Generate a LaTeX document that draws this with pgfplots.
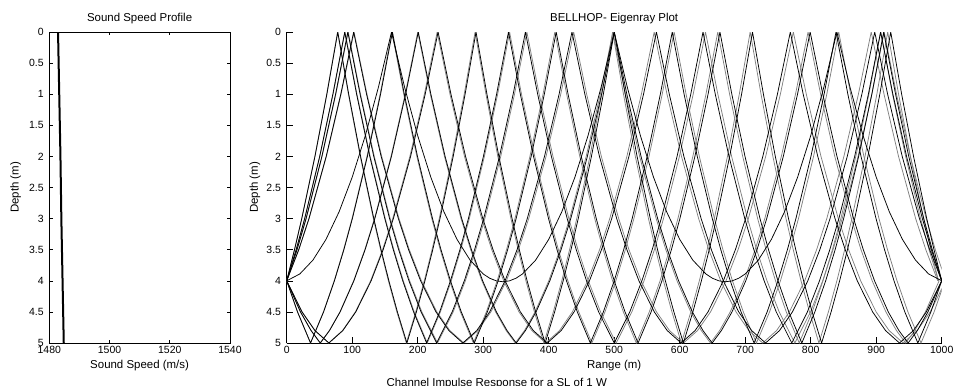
\documentclass[border=0pt]{standalone}
\usepackage{pgfplots}
\usepackage{pgfplotstable}
\pgfplotsset{compat=1.18}
\usepackage{fontspec}
\setmainfont{Liberation Sans}
\definecolor{raygray}{gray}{0.5}

% Eigenray N=6, launched up
\pgfplotstableread{
x y
0 4
18.35 3.5
33.95 3
60.26 2
82.54 1
102.21 0
121.88 1
144.16 2
170.47 3
186.07 3.5
204.42 4
227.86 4.5
247.59 4.8
268.87 5
290.15 4.8
309.88 4.5
333.32 4
351.67 3.5
367.27 3
393.58 2
415.86 1
435.53 0
455.20 1
477.48 2
503.79 3
519.39 3.5
537.74 4
561.18 4.5
580.91 4.8
602.19 5
623.47 4.8
643.20 4.5
666.64 4
684.99 3.5
700.59 3
726.90 2
749.18 1
768.85 0
788.52 1
810.80 2
837.11 3
852.71 3.5
871.06 4
894.50 4.5
914.23 4.8
935.51 5
956.79 4.8
976.52 4.5
1000 4
}\rayA
% N=6, launched down
\pgfplotstableread{
x y
0 4
23.44 4.5
43.17 4.8
64.45 5
85.73 4.8
105.46 4.5
128.90 4
147.25 3.5
162.85 3
189.16 2
211.44 1
231.11 0
250.78 1
273.06 2
299.37 3
314.97 3.5
333.32 4
356.76 4.5
376.49 4.8
397.77 5
419.05 4.8
438.78 4.5
462.22 4
480.57 3.5
496.17 3
522.48 2
544.76 1
564.43 0
584.10 1
606.38 2
632.69 3
648.29 3.5
666.64 4
690.08 4.5
709.81 4.8
731.09 5
752.37 4.8
772.10 4.5
795.54 4
813.89 3.5
829.49 3
855.80 2
878.08 1
897.75 0
917.42 1
939.70 2
966.01 3
981.61 3.5
1000 4
}\rayB
% N=8, launched up
\pgfplotstableread{
x y
0 4
14.43 3.5
27.40 3
50.33 2
70.44 1
88.57 0
106.70 1
126.81 2
149.74 3
162.71 3.5
177.14 4
193.66 4.5
213.57 5
233.48 4.5
250.00 4
264.43 3.5
277.40 3
300.33 2
320.44 1
338.57 0
356.70 1
376.81 2
399.74 3
412.71 3.5
427.14 4
443.66 4.5
463.57 5
483.48 4.5
500.00 4
514.43 3.5
527.40 3
550.33 2
570.44 1
588.57 0
606.70 1
626.81 2
649.74 3
662.71 3.5
677.14 4
693.66 4.5
713.57 5
733.48 4.5
750.00 4
764.43 3.5
777.40 3
800.33 2
820.44 1
838.57 0
856.70 1
876.81 2
899.74 3
912.71 3.5
927.14 4
943.66 4.5
963.57 5
983.48 4.5
1000 4
}\rayC
% N=8, launched down
\pgfplotstableread{
x y
0 4
16.52 4.5
36.43 5
56.34 4.5
72.86 4
87.29 3.5
100.26 3
123.19 2
143.30 1
161.43 0
179.56 1
199.67 2
222.60 3
235.57 3.5
250.00 4
266.52 4.5
286.43 5
306.34 4.5
322.86 4
337.29 3.5
350.26 3
373.19 2
393.30 1
411.43 0
429.56 1
449.67 2
472.60 3
485.57 3.5
500.00 4
516.52 4.5
536.43 5
556.34 4.5
572.86 4
587.29 3.5
600.26 3
623.19 2
643.30 1
661.43 0
679.56 1
699.67 2
722.60 3
735.57 3.5
750.00 4
766.52 4.5
786.43 5
806.34 4.5
822.86 4
837.29 3.5
850.26 3
873.19 2
893.30 1
911.43 0
929.56 1
949.67 2
972.60 3
985.57 3.5
1000 4
}\rayD
\pgfplotstableread{
x y
0 4
15.69 3.5
29.55 3
53.68 2
74.59 1
93.30 0
112.01 1
132.92 2
157.05 3
170.91 3.5
186.60 4
205.10 4.5
228.87 5
252.64 4.5
271.14 4
286.83 3.5
300.69 3
324.82 2
345.73 1
364.44 0
383.15 1
404.06 2
428.19 3
442.05 3.5
457.74 4
476.24 4.5
500.01 5
523.78 4.5
542.28 4
557.97 3.5
571.83 3
595.96 2
616.87 1
635.58 0
654.29 1
675.20 2
699.33 3
713.19 3.5
728.88 4
747.38 4.5
771.15 5
794.92 4.5
813.42 4
829.11 3.5
842.97 3
867.10 2
888.01 1
906.72 0
925.43 1
946.34 2
970.47 3
984.33 3.5
1000 4
}\rayE
\pgfplotstableread{
x y
0 4
11.93 3.5
23.00 3
43.16 2
61.33 1
78.00 0
94.67 1
112.84 2
133.00 3
144.07 3.5
156.00 4
169.02 4.5
183.52 5
198.02 4.5
211.04 4
222.97 3.5
234.04 3
254.20 2
272.37 1
289.04 0
305.71 1
323.88 2
344.04 3
355.11 3.5
367.04 4
380.06 4.5
394.56 5
409.06 4.5
422.08 4
434.01 3.5
445.08 3
465.24 2
483.41 1
500.08 0
516.75 1
534.92 2
555.08 3
566.15 3.5
578.08 4
591.10 4.5
605.60 5
620.10 4.5
633.12 4
645.05 3.5
656.12 3
676.28 2
694.45 1
711.12 0
727.79 1
745.96 2
766.12 3
777.19 3.5
789.12 4
802.14 4.5
816.64 5
831.14 4.5
844.16 4
856.09 3.5
867.16 3
887.32 2
905.49 1
922.16 0
938.83 1
957.00 2
977.16 3
988.23 3.5
1000 4
}\rayF
\pgfplotstableread{
x y
0 4
21.02 4.5
37.23 4.8
51.29 5
65.35 4.8
81.56 4.5
102.58 4
119.70 3.5
134.53 3
159.90 2
181.59 1
200.86 0
220.13 1
241.82 2
267.19 3
282.02 3.5
299.14 4
320.16 4.5
336.37 4.8
350.43 5
364.49 4.8
380.70 4.5
401.72 4
418.84 3.5
433.67 3
459.04 2
480.73 1
500.00 0
519.27 1
540.96 2
566.33 3
581.16 3.5
598.28 4
619.30 4.5
635.51 4.8
649.57 5
663.63 4.8
679.84 4.5
700.86 4
717.98 3.5
732.81 3
758.18 2
779.87 1
799.14 0
818.41 1
840.10 2
865.47 3
880.30 3.5
897.42 4
918.44 4.5
934.65 4.8
948.71 5
962.77 4.8
978.98 4.5
1000 4
}\rayG
% refracted ray turning above the bottom
\pgfplotstableread{
x y
0 4.000
20 3.890
40 3.668
60 3.334
80 2.890
100 2.334
120 1.667
140 0.889
160 0
180 0.889
200 1.667
220 2.334
240 2.890
260 3.334
280 3.668
300 3.890
310 3.959
320 4.001
330 4.015
340 4.001
350 3.959
360 3.890
380 3.668
400 3.334
420 2.890
440 2.334
460 1.667
480 0.889
500 0
520 0.889
540 1.667
560 2.334
580 2.890
600 3.334
620 3.668
640 3.890
650 3.959
660 4.001
670 4.015
680 4.001
690 3.959
700 3.890
720 3.668
740 3.334
760 2.890
780 2.334
800 1.667
820 0.889
840 0
860 0.889
880 1.667
900 2.334
920 2.890
940 3.334
960 3.668
980 3.890
1000 4.000
}\rayH

\begin{document}
\begin{tikzpicture}[x=1bp,y=1bp]
\path[use as bounding box] (0,0) rectangle (956,385);

\begin{axis}[
  at={(49.3bp,42bp)}, anchor=south west,
  scale only axis, width=180.7bp, height=311bp,
  xmin=1480, xmax=1540, ymin=0, ymax=5, y dir=reverse,
  xtick={1480,1500,1520,1540}, xticklabels={1480,1500,1520,1540},
  ytick={0,0.5,1,1.5,2,2.5,3,3.5,4,4.5,5},
  yticklabels={0,0.5,1,1.5,2,2.5,3,3.5,4,4.5,5},
  tick align=inside, major tick length=3.2bp,
  every tick/.style={black, line width=0.6bp},
  axis line style={line width=0.6bp},
  /pgf/number format/assume math mode=true,
  tick label style={font=\fontsize{10.5}{12}\selectfont},
  yticklabel style={inner sep=0pt, xshift=-5.5bp},
  xticklabel style={inner sep=0pt, yshift=-3.2bp},
]
\addplot[black, line width=2bp] coordinates {(1482.9,0) (1483.3,1) (1483.7,2) (1484.0,3) (1484.4,4) (1484.8,5)};
\end{axis}

\begin{axis}[
  at={(286.7bp,42bp)}, anchor=south west,
  scale only axis, width=655bp, height=311bp,
  xmin=0, xmax=1000, ymin=0, ymax=5, y dir=reverse,
  axis x line*=bottom, axis y line*=left,
  axis line style={-, line width=0.6bp},
  xtick={0,100,...,1000},
  xticklabels={0,100,200,300,400,500,600,700,800,900,1000},
  ytick={0,0.5,1,1.5,2,2.5,3,3.5,4,4.5,5},
  yticklabels={0,0.5,1,1.5,2,2.5,3,3.5,4,4.5,5},
  tick align=inside, major tick length=6.5bp,
  every tick/.style={black, line width=0.6bp},
  /pgf/number format/assume math mode=true,
  tick label style={font=\fontsize{10.5}{12}\selectfont},
  yticklabel style={inner sep=0pt, xshift=-5.5bp},
  xticklabel style={inner sep=0pt, yshift=-3.2bp},
  every axis plot/.append style={line width=0.75bp},
]
\addplot[raygray] table[x expr=\thisrow{x}*1.006, y=y] {\rayA};
\addplot[raygray] table[x expr=\thisrow{x}*0.994, y=y] {\rayB};
\addplot[raygray] table[x expr=\thisrow{x}*1.005, y=y] {\rayC};
\addplot[raygray] table[x expr=\thisrow{x}*0.995, y=y] {\rayD};
\addplot[raygray] table[x expr=\thisrow{x}*1.006, y=y] {\rayE};
\addplot[raygray] table[x expr=\thisrow{x}*0.995, y=y] {\rayF};
\addplot[raygray] table[x expr=\thisrow{x}*0.996, y=y] {\rayG};
\addplot[black] table[x=x, y=y] {\rayA};
\addplot[black] table[x=x, y=y] {\rayB};
\addplot[black] table[x=x, y=y] {\rayC};
\addplot[black] table[x=x, y=y] {\rayD};
\addplot[black] table[x=x, y=y] {\rayE};
\addplot[black] table[x=x, y=y] {\rayF};
\addplot[black] table[x=x, y=y] {\rayG};
\addplot[black] table[x=x, y=y] {\rayH};
\end{axis}

\begin{scope}[font=\fontsize{11.5}{13}\selectfont]
\node[anchor=base] at (139.6,363.5) {Sound Speed Profile};
\node[anchor=base] at (614.2,364) {BELLHOP- Eigenray Plot};
\node[anchor=base] at (139.6,17) {Sound Speed (m/s)};
\node[anchor=base] at (614.2,17) {Range (m)};
\node[anchor=base west] at (383,-1) {Channel Impulse Response for a SL of 1 W};
\node[rotate=90] at (15.7,197.5) {Depth (m)};
\node[rotate=90] at (255,197.5) {Depth (m)};
\end{scope}
\end{tikzpicture}
\end{document}
